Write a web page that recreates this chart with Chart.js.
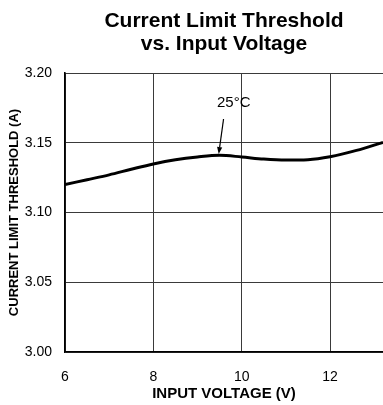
<!DOCTYPE html>
<html>
<head>
<meta charset="utf-8">
<script src="https://cdn.jsdelivr.net/npm/chart.js@4/dist/chart.umd.min.js"></script>
<style>
  html, body { margin: 0; padding: 0; background: #fff; }
  #wrap { width: 383px; height: 405px; position: relative; }
</style>
</head>
<body>
<div id="wrap"><canvas id="c" width="383" height="405"></canvas></div>
<script>
// ---- data ----
const inputVoltage = [6, 6.5, 7, 7.5, 8, 8.5, 9, 9.5, 10, 10.5, 11, 11.5, 12, 12.6, 13.2];
const currentLimit = [3.120, 3.1235, 3.127, 3.131, 3.1348, 3.1378, 3.1398, 3.1410, 3.1398, 3.1383, 3.1376, 3.1379, 3.1400, 3.1445, 3.1503];
const xTickValues = [6, 8, 10, 12];
const yTickValues = [3.00, 3.05, 3.10, 3.15, 3.20];
const titleLines = ["Current Limit Threshold", "vs. Input Voltage"];
const xAxisTitle = "INPUT VOLTAGE (V)";
const yAxisTitle = "CURRENT LIMIT THRESHOLD (A)";
const annotationLabel = "25°C";
const annotationText = { x: 9.82, y: 3.1785 };
const annotationArrowFrom = { x: 9.59, y: 3.167 };
const annotationArrowTo = { x: 9.48, y: 3.1419 };

const FONT = '"Liberation Sans", Arial, Helvetica, sans-serif';

const titlePlugin = {
  id: 'centeredTitle',
  afterDraw(chart) {
    const ctx = chart.ctx;
    const a = chart.chartArea;
    const cx = (a.left + a.right) / 2;
    ctx.save();
    ctx.fillStyle = '#000';
    ctx.font = 'bold 21px ' + FONT;
    ctx.textAlign = 'center';
    ctx.textBaseline = 'alphabetic';
    ctx.fillText(titleLines[0], cx, 27);
    ctx.fillText(titleLines[1], cx, 49.5);
    ctx.restore();
  }
};

const annotationPlugin = {
  id: 'tempAnnotation',
  afterDatasetsDraw(chart) {
    const ctx = chart.ctx;
    const xs = chart.scales.x, ys = chart.scales.y;
    const tx = xs.getPixelForValue(annotationText.x), ty = ys.getPixelForValue(annotationText.y);
    const x1 = xs.getPixelForValue(annotationArrowFrom.x), y1 = ys.getPixelForValue(annotationArrowFrom.y);
    const x2 = xs.getPixelForValue(annotationArrowTo.x), y2 = ys.getPixelForValue(annotationArrowTo.y);
    ctx.save();
    ctx.fillStyle = '#000';
    ctx.font = '15px ' + FONT;
    ctx.textAlign = 'center';
    ctx.textBaseline = 'middle';
    ctx.fillText(annotationLabel, tx, ty);
    ctx.strokeStyle = '#000';
    ctx.lineWidth = 1.2;
    const ang = Math.atan2(y2 - y1, x2 - x1);
    const hl = 7, hw = 2.6;
    const bx = x2 - hl * Math.cos(ang), by = y2 - hl * Math.sin(ang);
    ctx.beginPath();
    ctx.moveTo(x1, y1);
    ctx.lineTo(bx, by);
    ctx.stroke();
    ctx.beginPath();
    ctx.moveTo(x2, y2);
    ctx.lineTo(bx + hw * Math.sin(ang), by - hw * Math.cos(ang));
    ctx.lineTo(bx - hw * Math.sin(ang), by + hw * Math.cos(ang));
    ctx.closePath();
    ctx.fill();
    ctx.restore();
  }
};

new Chart(document.getElementById('c'), {
  type: 'line',
  data: {
    datasets: [{
      data: inputVoltage.map((v, i) => ({ x: v, y: currentLimit[i] })),
      borderColor: '#000',
      borderWidth: 3,
      pointRadius: 0,
      fill: false,
      cubicInterpolationMode: 'monotone'
    }]
  },
  options: {
    responsive: false,
    animation: false,
    devicePixelRatio: 1,
    layout: { padding: { top: 73, right: 0, left: 0, bottom: 0 } },
    plugins: { legend: { display: false }, title: { display: false }, tooltip: { enabled: false } },
    scales: {
      x: {
        type: 'linear',
        min: 6,
        max: 13.2,
        afterBuildTicks(scale) { scale.ticks = xTickValues.map(v => ({ value: v })); },
        afterFit(scale) { scale.height = 53; },
        ticks: { color: '#000', font: { family: FONT, size: 14 }, padding: 17, maxRotation: 0, callback: v => String(v) },
        grid: { color: '#3a3a3a', lineWidth: 1, drawTicks: false },
        border: { display: true, color: '#000', width: 1.6 },
        title: { display: true, text: xAxisTitle, color: '#000', font: { family: FONT, size: 15, weight: 'bold' }, padding: { top: 0, bottom: 2 } }
      },
      y: {
        type: 'linear',
        min: 3.00,
        max: 3.20,
        afterBuildTicks(scale) { scale.ticks = yTickValues.map(v => ({ value: v })); },
        afterFit(scale) { scale.width = 65; },
        ticks: { color: '#000', font: { family: FONT, size: 14 }, padding: 13, callback: v => Number(v).toFixed(2) },
        grid: { color: '#3a3a3a', lineWidth: 1, drawTicks: false },
        border: { display: true, color: '#000', width: 1.6 },
        title: { display: true, text: yAxisTitle, color: '#000', font: { family: FONT, size: 13, weight: 'bold' }, padding: { top: 7, bottom: 0 } }
      }
    }
  },
  plugins: [titlePlugin, annotationPlugin]
});
</script>
</body>
</html>
